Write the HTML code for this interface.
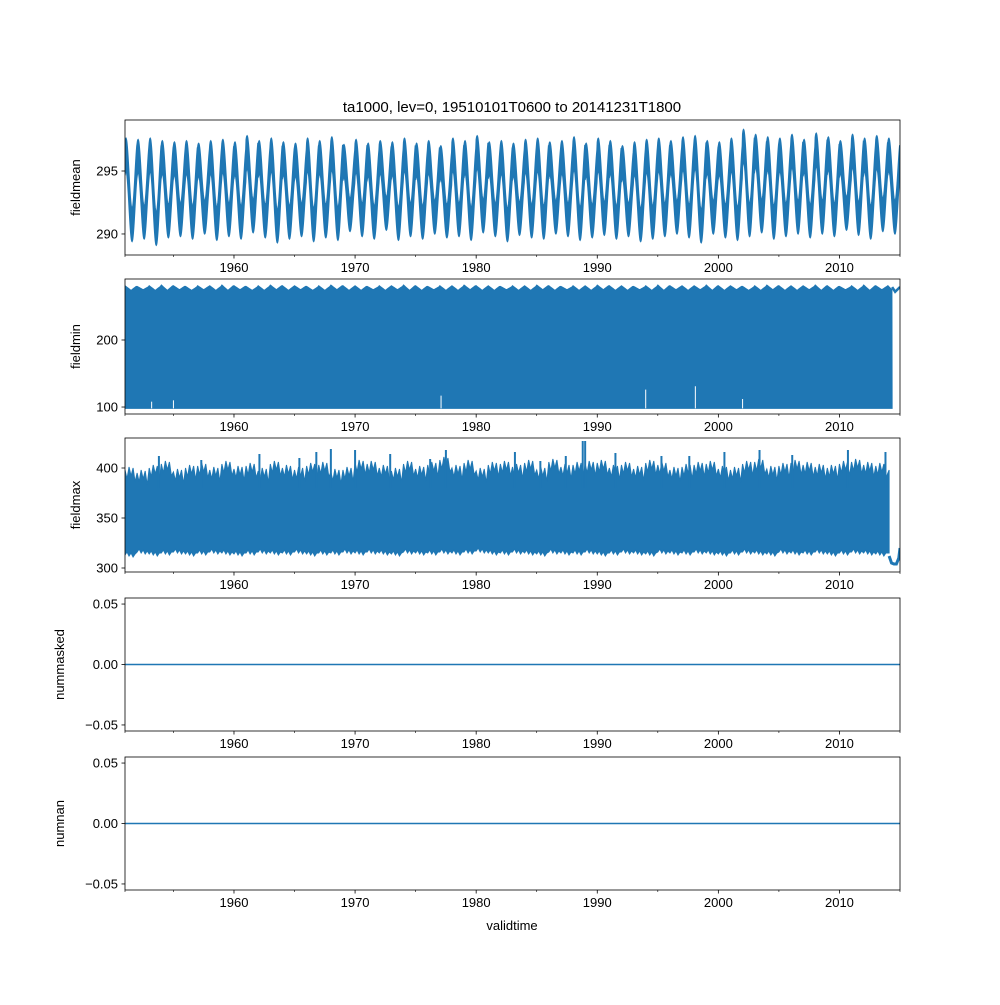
<!DOCTYPE html>
<html><head><meta charset="utf-8"><style>
body{margin:0;background:#fff;width:1000px;height:1000px;overflow:hidden}
svg{font-family:"Liberation Sans","DejaVu Sans",sans-serif}
</style></head><body>
<svg id="fig" width="1000" height="1000" xmlns="http://www.w3.org/2000/svg">
<rect width="1000" height="1000" fill="#fff"/>
<text x="512" y="112" font-size="15" text-anchor="middle">ta1000, lev=0, 19510101T0600 to 20141231T1800</text>
<text x="512" y="930" font-size="13" text-anchor="middle">validtime</text>
</svg>
<script>
// ---- data ----
const xTickYears=[1960,1970,1980,1990,2000,2010];
const xMinorYears=[1955,1965,1975,1985,1995,2005,2015];
const meanPeaks=[297.6,297.5,297.6,297.4,297.3,297.4,297.2,297.4,297.5,297.3,297.8,297.4,297.6,297.3,297.2,297.6,297.4,297.7,297.1,297.5,297.2,297.4,297.3,297.6,297.2,297.4,297.0,297.6,297.4,297.8,297.3,297.4,297.2,297.5,297.6,297.3,297.4,297.7,297.2,297.6,297.4,297.0,297.3,297.5,297.6,297.4,297.7,297.8,297.4,297.3,297.6,298.3,297.9,297.7,297.6,297.9,297.5,298.0,297.7,297.4,297.9,297.6,297.8,297.6];
const meanTroughs=[289.4,289.6,289.1,289.7,289.8,289.6,290.0,289.5,289.8,289.6,290.1,289.7,289.3,289.6,289.8,289.4,289.7,289.5,290.2,289.8,289.6,290.3,289.5,289.8,289.6,290.0,289.7,289.8,289.5,290.1,289.8,289.4,289.9,289.7,289.6,290.0,289.8,289.5,289.7,289.9,289.6,289.8,289.4,289.6,289.8,290.0,289.7,289.3,290.0,289.7,289.5,289.8,290.1,289.6,289.8,290.0,289.7,290.0,289.8,290.3,289.9,289.6,290.2,290.0];
const minTopPeaks=[281,280,281,282,281,280,281,281,282,281,280,281,282,281,281,280,281,282,281,281,280,281,281,282,281,280,281,281,282,281,281,280,281,281,282,281,280,281,281,282,281,281,280,281,282,281,281,281,282,281,281,280,281,282,281,281,281,282,281,280,281,282,281,281];
const minTopTroughs=[274,275,274,274,275,274,275,274,274,275,274,274,275,274,275,274,274,275,274,274,275,274,275,274,274,275,274,274,275,274,274,275,274,274,275,274,275,274,274,275,274,274,275,274,274,275,274,275,274,274,275,274,274,275,274,274,275,274,274,275,274,274,275,272];
const minFloor=100, minBlockEnd=2014.35;
const minSpikeYears=[1953.2,1955.0,1977.1,1994.0,1998.1,2002.0];
const minSpikeVals=[108,110,117,126,131,112];
const maxTops=[398,395,400,404,396,400,402,398,404,399,402,397,404,400,398,402,403,396,398,405,404,400,397,404,399,403,408,400,405,397,403,404,401,405,398,406,401,403,404,405,400,403,399,405,403,398,401,403,404,399,398,404,406,399,402,405,403,401,400,404,406,403,402];
const maxBottoms=[313,316,314,315,316,314,315,316,315,314,315,316,315,315,316,314,315,315,316,315,316,315,314,316,315,315,316,315,316,317,315,315,316,315,314,316,315,315,316,314,315,316,315,314,316,315,315,316,315,314,315,316,315,314,316,315,315,316,314,315,316,315,314];
const maxSpikeYears=[1953.8,1957.3,1962.1,1965.4,1966.8,1968.0,1970.0,1972.9,1976.2,1977.5,1983.2,1985.3,1987.4,1988.8,1989.0,1991.5,1995.3,1997.6,2000.5,2003.4,2006.1,2010.7,2013.8];
const maxSpikeVals=[412,408,414,410,416,419,418,414,409,418,416,407,412,427,427,415,412,412,416,418,413,418,416];
const maxBlockEnd=2014.1;
const maxTailYears=[2014.1,2014.3,2014.5,2014.7,2014.9,2015.0];
const maxTailVals=[312,305,304,304,310,320];
const zeroVals=[0,0];

// ---- layout ----
const NS="http://www.w3.org/2000/svg";
const svg=document.getElementById('fig');
const X0=125,X1=900,T0=1951.0,T1=2015.0;
const xs=t=>X0+(t-T0)/(T1-T0)*(X1-X0);
const C='#1f77b4';
function mk(tag,attrs,parent){const e=document.createElementNS(NS,tag);for(const k in attrs)e.setAttribute(k,attrs[k]);(parent||svg).appendChild(e);return e;}
function panel(name,top,bottom,vmin,vmax,ticks,fmt,ylabel,labelX){
  const ys=v=>bottom-(v-vmin)/(vmax-vmin)*(bottom-top);
  const g=mk('g',{});
  
  
  const clip=mk('clipPath',{id:'c'+name},g);mk('rect',{x:X0,y:top,width:X1-X0,height:bottom-top},clip);
  const dg=mk('g',{'clip-path':'url(#c'+name+')'},g);
  
  
  ticks.forEach(v=>{const y=ys(v);
    const l=mk('line',{x1:X0-3.5,x2:X0,y1:y,y2:y,stroke:'#000','stroke-width':0.8},g);
    
    const t=mk('text',{x:X0-7,y:y+4.5,'font-size':13,'text-anchor':'end'},g);t.textContent=fmt(v);
    });
  xTickYears.forEach(yr=>{const x=xs(yr);
    mk('line',{x1:x,x2:x,y1:bottom,y2:bottom+3.5,stroke:'#000','stroke-width':0.8},g);
    const t=mk('text',{x:x,y:bottom+17,'font-size':13,'text-anchor':'middle'},g);t.textContent=yr;
    });
  xMinorYears.concat([1951]).forEach(yr=>{const x=xs(yr);mk('line',{x1:x,x2:x,y1:bottom,y2:bottom+2,stroke:'#000','stroke-width':0.6},g);});
  const yl=mk('text',{x:labelX,y:(top+bottom)/2,'font-size':13,'text-anchor':'middle',transform:'rotate(-90 '+labelX+' '+(top+bottom)/2+')'},g);
  yl.textContent=ylabel;
  return {ys,dg,g,top,bottom};
}
function frame(p){const r=mk('rect',{x:X0,y:p.top,width:X1-X0,height:p.bottom-p.top,fill:'none',stroke:'#000','stroke-width':0.8},p.g);}
const mfmt=v=>(v<0?'\u2212':'')+Math.abs(v).toFixed(2);

// Panel 1 fieldmean
let p=panel('fieldmean',120,255,288.33,299.05,[290,295],v=>v.toFixed(0),'fieldmean',80);
{const H=1.3;let up=[],lo=[];
 for(let i=0;i<meanPeaks.length;i++){const pk=meanPeaks[i],tr=meanTroughs[i],mid=(pk+tr)/2,amp=(pk-tr)/2-H;
  for(let k=0;k<36;k++){const f=k/36,t=T0+i+f;const v=mid+amp*Math.cos(2*Math.PI*(f-0.08));
   up.push([xs(t),p.ys(v+H)]);lo.push([xs(t),p.ys(v-H)]);}}
 const d='M'+up.map(q=>q.join(',')).join('L')+'L'+lo.reverse().map(q=>q.join(',')).join('L')+'Z';
 const e=mk('path',{d:d,fill:C,stroke:C,'stroke-width':1.2},p.dg);}
frame(p);

// Panel 2 fieldmin
p=panel('fieldmin',279,414,89.6,291,[100,200],v=>v.toFixed(0),'fieldmin',80);
{let pts=[];
 for(let i=0;i<minTopPeaks.length;i++){for(let k=0;k<12;k++){const f=k/12,t=T0+i+f;if(t>minBlockEnd)break;
  const v=k<6?minTopPeaks[i]-(minTopPeaks[i]-minTopTroughs[i])*k/6:minTopTroughs[i]+(minTopPeaks[i]-minTopTroughs[i])*(k-6)/6;pts.push([xs(t),p.ys(v)]);}}
 let d='M'+xs(T0)+','+p.ys(minFloor-2)+'L'+pts.map(q=>q.join(',')).join('L')+'L'+xs(minBlockEnd)+','+p.ys(minFloor-2)+'Z';
 const e=mk('path',{d:d,fill:C,stroke:C,'stroke-width':1},p.dg);
 const tail=mk('path',{d:'M'+xs(minBlockEnd)+','+p.ys(279)+'L'+xs(2014.6)+','+p.ys(272)+'L'+xs(T1)+','+p.ys(279),fill:'none',stroke:C,'stroke-width':2.5},p.dg);
 
 minSpikeYears.forEach((yr,i)=>{const s=mk('line',{x1:xs(yr),x2:xs(yr),y1:p.ys(minFloor-2),y2:p.ys(minSpikeVals[i]),stroke:'#fff','stroke-width':1},p.dg);});}
frame(p);

// Panel 3 fieldmax
p=panel('fieldmax',438,572,296,430,[300,350,400],v=>v.toFixed(0),'fieldmax',80);
{let top=[],bot=[];
 for(let i=0;i<maxTops.length;i++){for(let k=0;k<6;k++){const t=T0+i+k/6;const off=[0,-9,3,-6,2,-12][k];const boff=[0,3,-1,2,-2,1][k];
  top.push([xs(t),p.ys(maxTops[i]+off)]);bot.push([xs(t),p.ys(maxBottoms[i]+boff)]);}}
 top.push([xs(maxBlockEnd),p.ys(398)]);bot.push([xs(maxBlockEnd),p.ys(315)]);
 const d='M'+top.map(q=>q.join(',')).join('L')+'L'+bot.reverse().map(q=>q.join(',')).join('L')+'Z';
 const e=mk('path',{d:d,fill:C,stroke:C,'stroke-width':1},p.dg);
 maxSpikeYears.forEach((yr,i)=>{const s=mk('line',{x1:xs(yr),x2:xs(yr),y1:p.ys(380),y2:p.ys(maxSpikeVals[i]),stroke:C,'stroke-width':2},p.dg);});
 const tail=mk('path',{d:'M'+maxTailYears.map((yr,i)=>xs(yr)+','+p.ys(maxTailVals[i])).join('L'),fill:'none',stroke:C,'stroke-width':3},p.dg);
 }
frame(p);

// Panels 4 & 5
[['nummasked',598,731],['numnan',757,890]].forEach(([n,t,b])=>{
  const q=panel(n,t,b,-0.055,0.055,[-0.05,0,0.05],mfmt,n,64);
  const l=mk('line',{x1:xs(T0),x2:xs(T1),y1:q.ys(zeroVals[0]),y2:q.ys(zeroVals[1]),stroke:C,'stroke-width':1.5},q.dg);
  
  frame(q);
});
</script>
</body></html>
